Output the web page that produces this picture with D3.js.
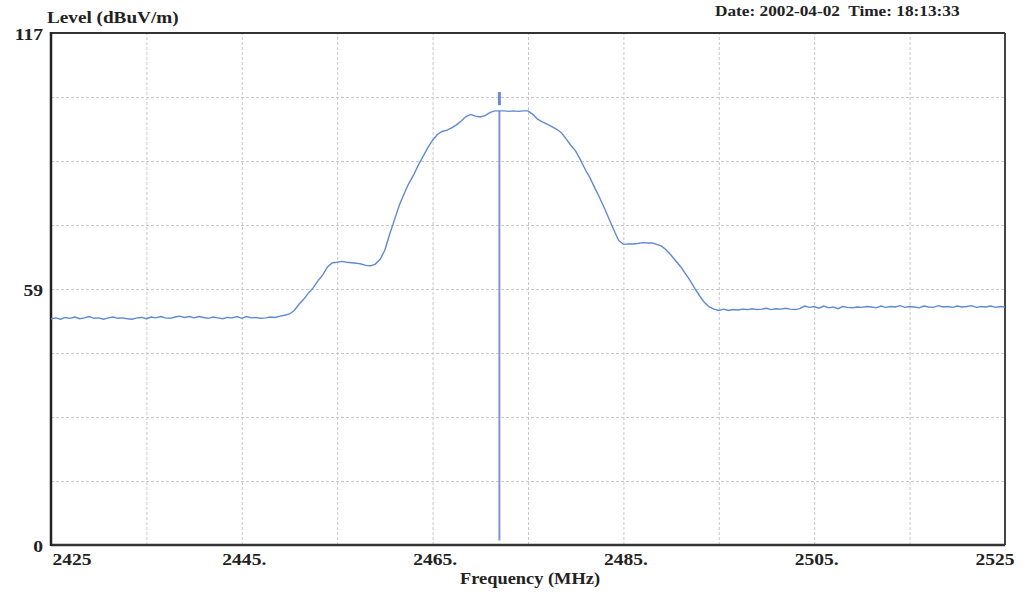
<!DOCTYPE html>
<html>
<head>
<meta charset="utf-8">
<script src="https://cdn.jsdelivr.net/npm/d3@7"></script>
<style>
  body { margin: 0; background: #fff; }
  text { font-family: "Liberation Serif", "DejaVu Serif", serif; font-weight: bold; fill: #222; }
</style>
</head>
<body>
<div id="chart"></div>
<script>
var freqMHz = [
  2425, 2425.5, 2426, 2426.5, 2427, 2427.5, 2428, 2428.5, 2429, 2429.5,
  2430, 2430.5, 2431, 2431.5, 2432, 2432.5, 2433, 2433.5, 2434, 2434.5,
  2435, 2435.5, 2436, 2436.5, 2437, 2437.5, 2438, 2438.5, 2439, 2439.5,
  2440, 2440.5, 2441, 2441.5, 2442, 2442.5, 2443, 2443.5, 2444, 2444.5,
  2445, 2445.5, 2446, 2446.5, 2447, 2447.5, 2448, 2448.5, 2449, 2449.5,
  2450, 2450.5, 2451, 2451.5, 2452, 2452.5, 2453, 2453.5, 2454, 2454.5,
  2455, 2455.5, 2456, 2456.5, 2457, 2457.5, 2458, 2458.5, 2459, 2459.5,
  2460, 2460.5, 2461, 2461.5, 2462, 2462.5, 2463, 2463.5, 2464, 2464.5,
  2465, 2465.5, 2466, 2466.5, 2467, 2467.5, 2468, 2468.5, 2469, 2469.5,
  2470, 2470.5, 2471, 2471.5, 2472, 2472.5, 2473, 2473.5, 2474, 2474.5,
  2475, 2475.5, 2476, 2476.5, 2477, 2477.5, 2478, 2478.5, 2479, 2479.5,
  2480, 2480.5, 2481, 2481.5, 2482, 2482.5, 2483, 2483.5, 2484, 2484.5,
  2485, 2485.5, 2486, 2486.5, 2487, 2487.5, 2488, 2488.5, 2489, 2489.5,
  2490, 2490.5, 2491, 2491.5, 2492, 2492.5, 2493, 2493.5, 2494, 2494.5,
  2495, 2495.5, 2496, 2496.5, 2497, 2497.5, 2498, 2498.5, 2499, 2499.5,
  2500, 2500.5, 2501, 2501.5, 2502, 2502.5, 2503, 2503.5, 2504, 2504.5,
  2505, 2505.5, 2506, 2506.5, 2507, 2507.5, 2508, 2508.5, 2509, 2509.5,
  2510, 2510.5, 2511, 2511.5, 2512, 2512.5, 2513, 2513.5, 2514, 2514.5,
  2515, 2515.5, 2516, 2516.5, 2517, 2517.5, 2518, 2518.5, 2519, 2519.5,
  2520, 2520.5, 2521, 2521.5, 2522, 2522.5, 2523, 2523.5, 2524, 2524.5,
  2525
];
var levelDb = [
  51.7, 51.9, 51.6, 52.0, 51.8, 52.1, 51.7, 51.9, 52.2, 51.8,
  51.9, 51.6, 51.9, 52.1, 51.8, 51.9, 51.7, 51.6, 51.9, 52.0,
  51.7, 52.1, 51.9, 52.2, 51.9, 51.8, 52.1, 52.3, 52.0, 52.2,
  51.9, 52.2, 52.0, 51.8, 52.1, 51.9, 51.7, 52.0, 51.9, 52.2,
  51.8, 52.2, 51.9, 52.0, 51.8, 51.9, 52.1, 52.0, 52.3, 52.5,
  52.8, 53.6, 55.0, 56.2, 57.6, 58.8, 60.4, 61.8, 63.6, 64.5,
  64.6, 64.8, 64.6, 64.5, 64.4, 64.2, 63.9, 63.8, 64.2, 65.3,
  67.4, 71.0, 74.3, 77.6, 80.2, 82.6, 84.5, 86.8, 88.8, 90.8,
  92.5, 93.8, 94.5, 94.8, 95.3, 96.0, 96.9, 97.9, 98.4, 98.0,
  97.8, 98.1, 98.8, 99.2, 99.2, 99.2, 99.1, 99.2, 99.1, 99.2,
  99.2, 98.4, 97.3, 96.7, 96.2, 95.6, 95.0, 94.2, 92.8, 91.3,
  90.0, 88.0, 85.8, 83.9, 81.6, 79.4, 77.0, 74.5, 72.0, 69.6,
  68.7, 68.8, 68.8, 68.9, 69.1, 69.0, 69.0, 68.7, 68.3, 67.4,
  66.2, 64.9, 63.6, 62.0, 60.4, 58.6, 56.9, 55.4, 54.4, 53.9,
  53.6, 53.9, 53.6, 53.8, 53.7, 53.9, 53.8, 54.0, 53.8, 53.9,
  54.1, 53.8, 54.0, 53.9, 54.1, 53.9, 53.8, 54.0, 54.6, 54.3,
  54.5, 54.1, 54.6, 54.2, 54.4, 54.0, 54.5, 54.3, 54.2, 54.4,
  54.3, 54.5, 54.4, 54.2, 54.6, 54.3, 54.5, 54.4, 54.7, 54.3,
  54.5, 54.4, 54.2, 54.6, 54.4, 54.3, 54.7, 54.4, 54.5, 54.3,
  54.6, 54.4, 54.5, 54.7, 54.3, 54.5, 54.4, 54.6, 54.3, 54.5,
  54.4
];

var markerMHz = 2472;
var markerDb = 99.2;

var xTickValues = [2425, 2445, 2465, 2485, 2505, 2525];
var xTickLabels = ["2425", "2445.", "2465.", "2485.", "2505.", "2525"];
var yTickValues = [0, 58.5, 117];
var yTickLabels = ["0", "59", "117"];
var xGridMHz = [2435, 2445, 2455, 2465, 2475, 2485, 2495, 2505, 2515];
var yGridDb = [14.625, 29.25, 43.875, 58.5, 73.125, 87.75, 102.375];

var dateText = "Date: 2002-04-02  Time: 18:13:33";

// set the dimensions and margins of the graph
var margin = {top: 33, right: 29, bottom: 49, left: 51},
    width = 1034 - margin.left - margin.right,
    height = 594 - margin.top - margin.bottom;

var svg = d3.select("#chart")
  .append("svg")
    .attr("width", 1034)
    .attr("height", 594);

var g = svg.append("g")
    .attr("transform", "translate(" + margin.left + "," + margin.top + ")");

var x = d3.scaleLinear().domain([2425, 2525]).range([0, width]);
var y = d3.scaleLinear().domain([0, 117]).range([height, 0]);

var sx = 1.15; // scanned print is a bit wide

// grid lines
var xGrid = g.append("g")
    .attr("transform", "translate(0," + height + ")")
    .call(d3.axisBottom(x).tickValues(xGridMHz).tickSize(-height).tickFormat(""));
xGrid.select(".domain").remove();
xGrid.selectAll("line").attr("stroke", "#c8c8c8").attr("stroke-dasharray", "3,2");

var yGrid = g.append("g")
    .call(d3.axisLeft(y).tickValues(yGridDb).tickSize(-width).tickFormat(""));
yGrid.select(".domain").remove();
yGrid.selectAll("line").attr("stroke", "#c8c8c8").attr("stroke-dasharray", "3,2");

// x axis labels
var xAxis = g.append("g")
    .attr("transform", "translate(0," + height + ")")
    .call(d3.axisBottom(x).tickValues(xTickValues).tickSize(0)
      .tickFormat((d, i) => xTickLabels[i]));
xAxis.select(".domain").remove();
xAxis.selectAll("text")
    .attr("font-size", 17)
    .attr("fill", "#222")
    .attr("y", 0)
    .attr("dy", null)
    .attr("text-anchor", (d, i) => i == 0 ? "start" : (i == xTickValues.length - 1 ? "end" : "middle"))
    .attr("transform", (d, i) => "translate(" + (i == 0 ? 1 : (i == xTickValues.length - 1 ? 9 : 2)) + ",20) scale(" + sx + ",1)");

// y axis labels
var yAxis = g.append("g")
    .call(d3.axisLeft(y).tickValues(yTickValues).tickSize(0)
      .tickFormat((d, i) => yTickLabels[i]));
yAxis.select(".domain").remove();
yAxis.selectAll("text")
    .attr("font-size", 17)
    .attr("fill", "#222")
    .attr("x", 0)
    .attr("dy", null)
    .attr("y", 0)
    .attr("text-anchor", "end")
    .attr("transform", "translate(-8,6) scale(" + sx + ",1)");

// frame
g.append("line").attr("x1", 0).attr("x2", width).attr("y1", 0).attr("y2", 0)
    .attr("stroke", "#333").attr("stroke-width", 2);
g.append("line").attr("x1", width).attr("x2", width).attr("y1", 0).attr("y2", height)
    .attr("stroke", "#444").attr("stroke-width", 2);
g.append("line").attr("x1", 0).attr("x2", width).attr("y1", height).attr("y2", height)
    .attr("stroke", "#333").attr("stroke-width", 2.5);
g.append("line").attr("x1", 0).attr("x2", 0).attr("y1", -1).attr("y2", height + 1)
    .attr("stroke", "#222").attr("stroke-width", 2.5);

// marker
g.append("line")
    .attr("x1", x(markerMHz)).attr("x2", x(markerMHz))
    .attr("y1", y(markerDb)).attr("y2", y(1))
    .attr("stroke", "#7f97cf").attr("stroke-width", 2);
g.append("line")
    .attr("x1", x(markerMHz)).attr("x2", x(markerMHz))
    .attr("y1", y(markerDb + 4.3)).attr("y2", y(markerDb + 1.3))
    .attr("stroke", "#6d8bd0").attr("stroke-width", 3);

// trace
var trace = freqMHz.map((f, i) => ({f: f, v: levelDb[i]}));
g.append("path")
    .datum(trace)
    .attr("fill", "none")
    .attr("stroke", "#5f8ad2")
    .attr("stroke-width", 1.4)
    .attr("d", d3.line().x(d => x(d.f)).y(d => y(d.v)));

// titles
svg.append("text")
    .attr("transform", "translate(47,23) scale(1.2,1)")
    .attr("font-size", 16)
    .text("Level (dBuV/m)");

svg.append("text")
    .attr("transform", "translate(715,16) scale(" + sx + ",1)")
    .attr("font-size", 15)
    .style("white-space", "pre")
    .text(dateText);

svg.append("text")
    .attr("transform", "translate(530,584) scale(" + sx + ",1)")
    .attr("text-anchor", "middle")
    .attr("font-size", 16)
    .text("Frequency (MHz)");
</script>
</body>
</html>
